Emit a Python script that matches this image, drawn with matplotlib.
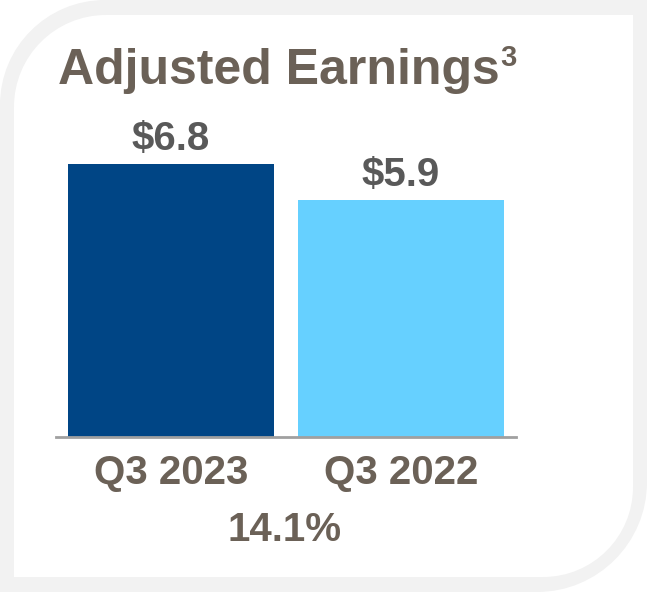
import matplotlib
matplotlib.use("Agg")
import matplotlib.pyplot as plt
from matplotlib.path import Path
from matplotlib.patches import PathPatch
import numpy as np

# ---- data ----
categories = ["Q3 2023", "Q3 2022"]
values = [6.8, 5.9]
value_labels = ["$6.8", "$5.9"]
title = "Adjusted Earnings"
title_sup = "3"
change_label = "14.1%"
bar_colors = ["#004585", "#66d0ff"]

W, H = 647, 592
fig = plt.figure(figsize=(W / 100, H / 100), dpi=100)
fig.patch.set_facecolor("white")

FONT = "Liberation Sans"
TXT = "#6b6157"
VAL = "#595959"


def rounded_shape(x0, y0, x1, y1, r_tl, r_br):
    """Rectangle in pixel coords (y from top) with rounded top-left and bottom-right."""
    k = 0.5523
    pts = []
    codes = []

    def P(x, y):
        return (x / W, 1 - y / H)
    pts.append(P(x0 + r_tl, y0)); codes.append(Path.MOVETO)
    pts.append(P(x1, y0)); codes.append(Path.LINETO)
    pts.append(P(x1, y1 - r_br)); codes.append(Path.LINETO)
    pts += [P(x1, y1 - r_br + k * r_br), P(x1 - r_br + k * r_br, y1), P(x1 - r_br, y1)]
    codes += [Path.CURVE4] * 3
    pts.append(P(x0, y1)); codes.append(Path.LINETO)
    pts.append(P(x0, y0 + r_tl)); codes.append(Path.LINETO)
    pts += [P(x0, y0 + r_tl - k * r_tl), P(x0 + r_tl - k * r_tl, y0), P(x0 + r_tl, y0)]
    codes += [Path.CURVE4] * 3
    pts.append(P(x0 + r_tl, y0)); codes.append(Path.CLOSEPOLY)
    return Path(pts, codes)


outer = PathPatch(rounded_shape(0, 0, W, H, 105, 110), facecolor="#f2f2f2",
                  edgecolor="none", transform=fig.transFigure, zorder=0)
inner = PathPatch(rounded_shape(14, 15, 633, 577, 92, 90), facecolor="white",
                  edgecolor="none", transform=fig.transFigure, zorder=1)
fig.patches.extend([outer, inner])

# ---- axes ----
ax_left, ax_right = 56, 516
ax_bottom, ax_top = 437, 100
ax = fig.add_axes([ax_left / W, 1 - ax_bottom / H, (ax_right - ax_left) / W,
                   (ax_bottom - ax_top) / H])
ax.set_facecolor("none")
ax.set_zorder(2)
x = np.arange(len(categories))
ax.bar(x, values, width=0.896, color=bar_colors, zorder=2)
ax.set_xlim(-0.5, 1.5)
ax.set_ylim(0, 8.4)
for s in ["top", "right", "left"]:
    ax.spines[s].set_visible(False)
ax.spines["bottom"].set_color("#a0a0a0")
ax.spines["bottom"].set_linewidth(2)
ax.set_yticks([])
ax.set_xticks(x)
ax.set_xticklabels(categories, fontsize=29, fontweight="bold", family=FONT, color=TXT)
ax.tick_params(axis="x", length=0, pad=12)

for xi, v, lab in zip(x, values, value_labels):
    ax.annotate(lab, (xi, v), xytext=(0, 10), textcoords="offset points",
                ha="center", va="baseline", fontsize=29, fontweight="bold",
                family=FONT, color=VAL)

fig.text(285 / W, 1 - 530 / H, change_label, ha="center", va="center",
         fontsize=29, fontweight="bold", family=FONT, color=TXT, zorder=3)

t = fig.text(58 / W, 1 - 84 / H, title, ha="left", va="baseline",
             fontsize=36, fontweight="bold", family=FONT, color=TXT, zorder=3)
fig.canvas.draw()
bb = t.get_window_extent(fig.canvas.get_renderer())
fig.text((bb.x1 + 1) / W, 1 - 66 / H, title_sup, ha="left", va="baseline",
         fontsize=21, fontweight="bold", family=FONT, color=TXT, zorder=3)

fig.savefig("out.png", dpi=100)
